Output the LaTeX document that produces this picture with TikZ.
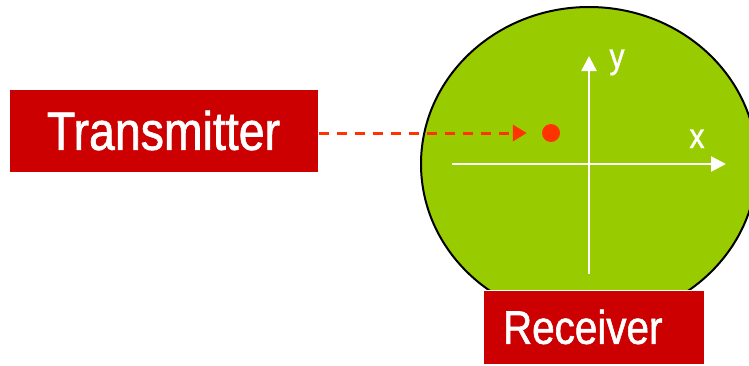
\documentclass[tikz,border=0pt]{standalone}
\usepackage{fontspec}
\newfontfamily\narrowfont[FakeStretch=0.86,FakeBold=1.2]{Liberation Sans}
\usetikzlibrary{arrows.meta,shapes.geometric}
\definecolor{boxred}{HTML}{CC0000}
\definecolor{leaf}{HTML}{99CC00}
\definecolor{signal}{HTML}{FF3300}
\tikzset{
  redbox/.style={rectangle, fill=boxred, draw=white, line width=1pt, text=white, inner sep=0pt},
  axisline/.style={draw=white, line width=2.5pt, -{Triangle[length=15pt,width=15pt]}},
  dashline/.style={draw=signal, line width=3pt, dash pattern=on 10pt off 8pt, -{Triangle[length=14pt,width=16pt]}},
  axislabel/.style={text=white, inner sep=0pt, anchor=base, font=\narrowfont\fontsize{35}{40}\selectfont},
  boxfont/.style={font=\narrowfont\fontsize{#1}{#1}\selectfont}
}
\begin{document}
\begin{tikzpicture}[x=1pt,y=-1pt]
\useasboundingbox (0,0) rectangle (749,365);
% receiver area
\node[ellipse, fill=leaf, draw=black, line width=2pt, minimum width=336pt, minimum height=314pt, inner sep=0pt] (area) at (589,164) {};
% axes
\coordinate (xl) at (452,164);
\coordinate (xr) at (726,164);
\coordinate (yb) at (589,274);
\coordinate (yt) at (589,56);
\draw[axisline] (xl) -- (xr);
\draw[axisline] (yb) -- (yt);
\node[axislabel] (ylab) at (617,68) {y};
\node[axislabel] (xlab) at (697,148) {x};
% dot
\node[circle, fill=signal, minimum size=18pt, inner sep=0pt] (dot) at (551,133) {};
% boxes
\node[redbox, boxfont=54, minimum width=309pt, minimum height=83pt] (tx) at (163.5,130.5) {Transmitter};
\node[redbox, boxfont=47, minimum height=74pt, text width=181pt, inner xsep=20pt, align=left] (rx) at (593.5,327) {Receiver};
% signal
\draw[dashline, shorten >=15pt] (tx.east |- dot.center) -- (dot.west);
\end{tikzpicture}
\end{document}
